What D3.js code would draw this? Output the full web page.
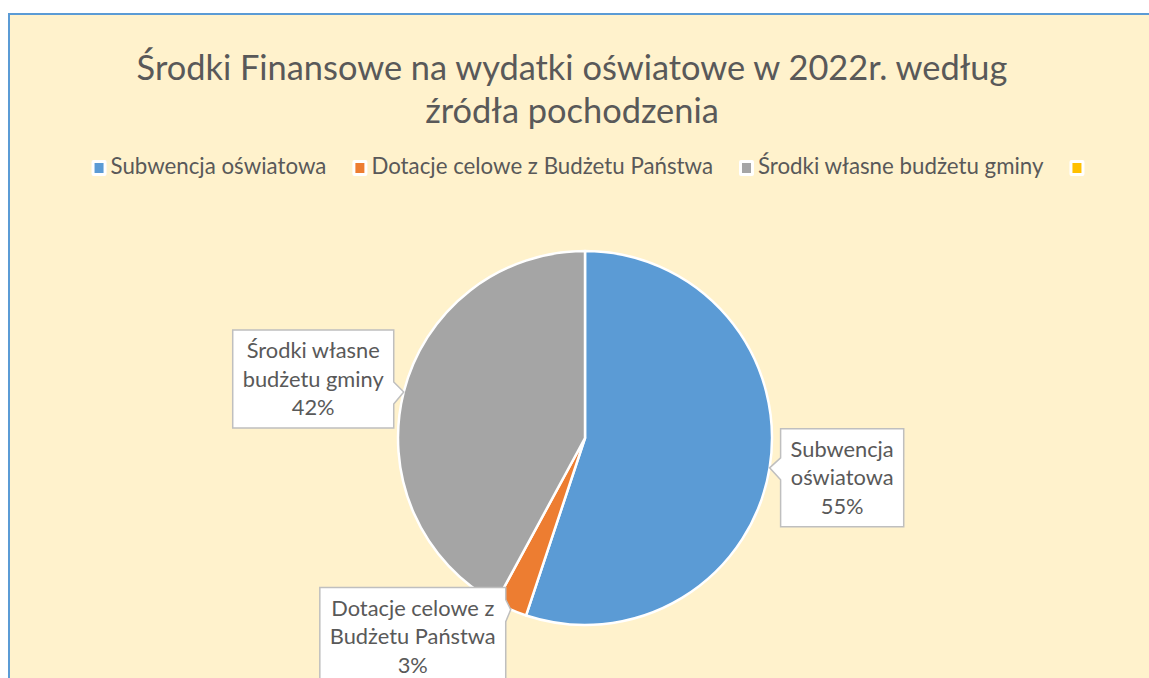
<!DOCTYPE html>
<html>
<head>
<meta charset="utf-8">
<script src="https://cdn.jsdelivr.net/npm/d3@7"></script>
<style>
  html, body { margin: 0; padding: 0; background: #fff; }
  svg { display: block; }
  text { font-family: Lato, "Open Sans", sans-serif; fill: #595959; }
</style>
</head>
<body>
<div id="chart"></div>
<script>
// chart data (share of financing sources, %)
const categories = ["Subwencja oświatowa", "Dotacje celowe z Budżetu Państwa", "Środki własne budżetu gminy", ""];
const values = [55.1, 2.8, 42.1, 0];
const colors = ["#5B9BD5", "#ED7D31", "#A5A5A5", "#FFC000"];
const labelLines = [["Subwencja", "oświatowa"], ["Dotacje celowe z", "Budżetu Państwa"], ["Środki własne", "budżetu gminy"]];
const titleLines = ["Środki Finansowe na wydatki oświatowe w 2022r. według", "źródła pochodzenia"];

const W = 1149, H = 678;
const cx = 585, cy = 438, R = 187;

const svg = d3.select("#chart").append("svg")
    .attr("width", W)
    .attr("height", H);

// chart area
svg.append("rect")
    .attr("x", 9).attr("y", 14)
    .attr("width", W + 20).attr("height", H + 20)
    .attr("fill", "#FFF2CC")
    .attr("stroke", "#5B9BD5")
    .attr("stroke-width", 2);

// helper: font size so that a string gets a given width
function fitSize(str, target) {
    const t = svg.append("text").attr("font-size", 100).text(str);
    const w = t.node().getComputedTextLength();
    t.remove();
    return 100 * target / w;
}

// title
const titleSize = fitSize(titleLines[0], 871);
svg.selectAll("text.title")
    .data(titleLines)
    .enter()
    .append("text")
        .attr("class", "title")
        .attr("x", 572)
        .attr("y", (d, i) => 80 + i * 43)
        .attr("text-anchor", "middle")
        .attr("font-size", titleSize)
        .text(d => d);

// legend
const legSize = fitSize(categories[0], 216);
const legend = svg.append("g");
let lx = 0;
categories.forEach((c, i) => {
    const g = legend.append("g").attr("transform", "translate(" + lx + ",0)");
    g.append("rect")
        .attr("x", 0).attr("y", 160).attr("width", 15).attr("height", 16)
        .attr("rx", 2)
        .attr("fill", "#fff");
    g.append("rect")
        .attr("x", 3).attr("y", 163).attr("width", 9).attr("height", 10)
        .attr("fill", colors[i]);
    const t = g.append("text")
        .attr("x", 19).attr("y", 174)
        .attr("font-size", legSize)
        .text(c);
    lx += 19 + (c ? t.node().getComputedTextLength() : 0) + 26;
});
const legW = lx - 26 - 19 + 15;
legend.attr("transform", "translate(" + (588 - legW / 2) + ",0)");

// pie
const pie = d3.pie().sort(null).value(d => d)(values.slice(0, 3));
const arc = d3.arc().innerRadius(0).outerRadius(R);

const pieG = svg.append("g").attr("transform", "translate(" + cx + "," + cy + ")");
pieG.selectAll("path")
    .data(pie)
    .enter()
    .append("path")
        .attr("d", arc)
        .attr("fill", (d, i) => colors[i])
        .attr("stroke", "#fff")
        .attr("stroke-width", 2.5)
        .attr("stroke-linejoin", "round");

// data labels (callouts)
const labSize = fitSize("Budżetu Państwa", 166);
const lineH = 28.5;
// box offset from the pointer tip: [side, dx, dy of box top]
const labelPlace = [["right", 11, -39], ["left", -5, -22], ["left", -10, -62]];
const total = d3.sum(values);

pie.forEach((d, i) => {
    const a = (d.startAngle + d.endAngle) / 2;
    const tx = cx + R * Math.sin(a), ty = cy - R * Math.cos(a);
    const lines = labelLines[i].concat([Math.round(d.value / total * 100) + "%"]);

    const g = svg.append("g");
    const texts = lines.map(s => {
        const t = g.append("text").attr("font-size", labSize).attr("text-anchor", "middle").text(s);
        return t;
    });
    const tw = d3.max(texts, t => t.node().getComputedTextLength());
    const bw = tw + 20, bh = lines.length * 29 + 11;
    const pl = labelPlace[i];
    const bx = pl[0] == "right" ? tx + pl[1] : tx + pl[1] - bw;
    const by = ty + pl[2];
    const edge = pl[0] == "right" ? bx : bx + bw;
    let b0 = Math.max(by + 2, ty - 10), b1 = Math.min(by + bh - 2, ty + 12);

    // box with pointer
    let p;
    if (pl[0] == "right") {
        p = [[bx, by], [bx + bw, by], [bx + bw, by + bh], [bx, by + bh], [bx, b1], [tx, ty], [bx, b0]];
    } else {
        p = [[bx, by], [bx + bw, by], [edge, b0], [tx, ty], [edge, b1], [bx + bw, by + bh], [bx, by + bh]];
    }
    g.insert("path", "text")
        .attr("d", d3.line()(p) + "Z")
        .attr("fill", "#fff")
        .attr("stroke", "#BFBFBF")
        .attr("stroke-width", 1.5);

    texts.forEach((t, j) => {
        t.attr("x", bx + bw / 2).attr("y", by + 28 + j * lineH);
    });
});
</script>
</body>
</html>
